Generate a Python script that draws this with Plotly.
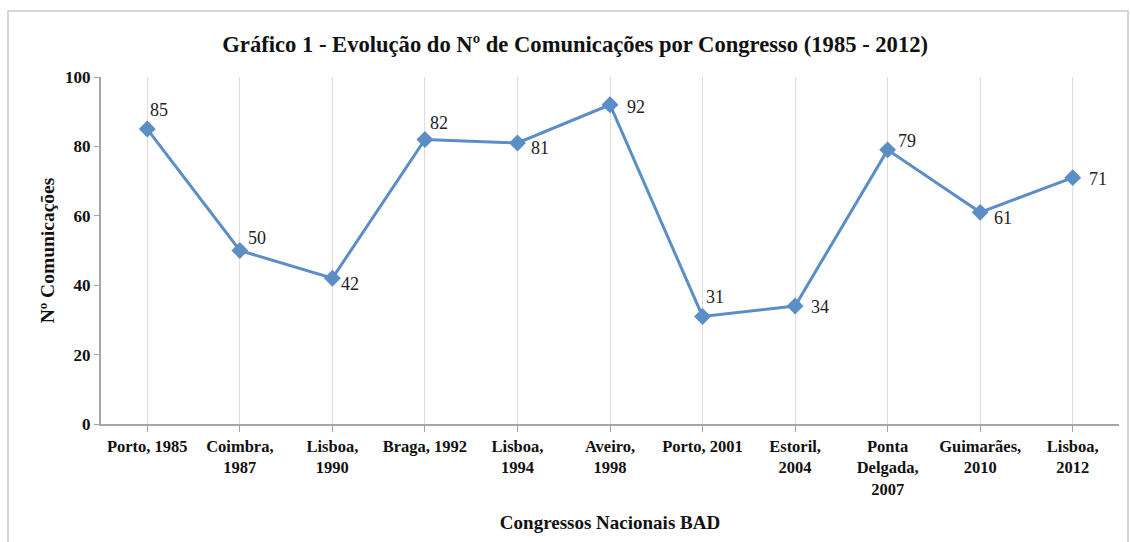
import plotly.graph_objects as go

categories = ["Porto, 1985", "Coimbra,<br>1987", "Lisboa,<br>1990", "Braga, 1992", "Lisboa,<br>1994",
              "Aveiro,<br>1998", "Porto, 2001", "Estoril,<br>2004", "Ponta<br>Delgada,<br>2007",
              "Guimarães,<br>2010", "Lisboa,<br>2012"]
values = [85, 50, 42, 82, 81, 92, 31, 34, 79, 61, 71]
y_ticks = [0, 20, 40, 60, 80, 100]

# label offsets in pixels (style)
label_dx = [12, 17, 18, 14, 23, 26, 12, 25, 19, 23, 25]
label_dy = [19, 13, -6, 16, -5, -2, 19, -1, 9, -6, -1]

serif = "Liberation Serif"
xs = list(range(len(categories)))
fig = go.Figure()
fig.add_trace(go.Scatter(
    x=xs, y=values, mode="lines+markers",
    line=dict(color="#5b8ec6", width=3),
    marker=dict(symbol="diamond", size=13, color="#5b8ec6"),
    cliponaxis=False, showlegend=False, hoverinfo="x+y",
))

annotations = [dict(x=x, y=v, xref="x", yref="y", text=str(v), showarrow=False,
                    xanchor="center", yanchor="middle", xshift=dx, yshift=dy,
                    font=dict(family=serif, size=18, color="#222"))
               for x, v, dx, dy in zip(xs, values, label_dx, label_dy)]

fig.update_layout(
    width=1130, height=542,
    margin=dict(l=101, r=11, t=77, b=118),
    paper_bgcolor="white", plot_bgcolor="white",
    title=dict(text="<b>Gráfico 1 - Evolução do Nº de Comunicações por Congresso (1985 - 2012)</b>",
               x=0.509, xanchor="center", y=0.918, yanchor="middle",
               font=dict(family=serif, size=22.6, color="#111")),
    xaxis=dict(
        range=[-0.5, 10.5], tickmode="array", tickvals=xs,
        ticktext=["<b>" + c.replace("<br>", "</b><br><b>") + "</b>" for c in categories],
        showgrid=True, gridcolor="#dedede", gridwidth=1,
        showline=True, linecolor="#a6a6a6", linewidth=2,
        ticks="outside", ticklen=6, tickcolor="#a6a6a6",
        tickfont=dict(family=serif, size=16.5, color="#111"),
        title=dict(text="<b>Congressos Nacionais BAD</b>", font=dict(family=serif, size=19, color="#111"),
                   standoff=18),
        zeroline=False,
    ),
    yaxis=dict(
        range=[0, 100], tickmode="array", tickvals=y_ticks,
        ticktext=["<b>%d</b>" % t for t in y_ticks],
        showgrid=False, showline=True, linecolor="#a6a6a6", linewidth=2,
        ticks="outside", ticklen=5, tickcolor="#a6a6a6",
        tickfont=dict(family=serif, size=17, color="#111"),
        title=dict(text="<b>Nº Comunicações</b>", font=dict(family=serif, size=19.5, color="#111"),
                   standoff=5),
        zeroline=False,
    ),
    annotations=annotations,
    shapes=[dict(type="rect", xref="paper", yref="paper",
                 x0=(8 - 101) / 1018, x1=(1128 - 101) / 1018,
                 y0=(424 - 560) / 347, y1=(424 - 11) / 347,
                 line=dict(color="#c8c8c8", width=1.5))],
)

fig.write_html("out.html", config={"displayModeBar": False},
               post_script="document.body.style.margin='0';document.body.style.overflow='hidden';")
